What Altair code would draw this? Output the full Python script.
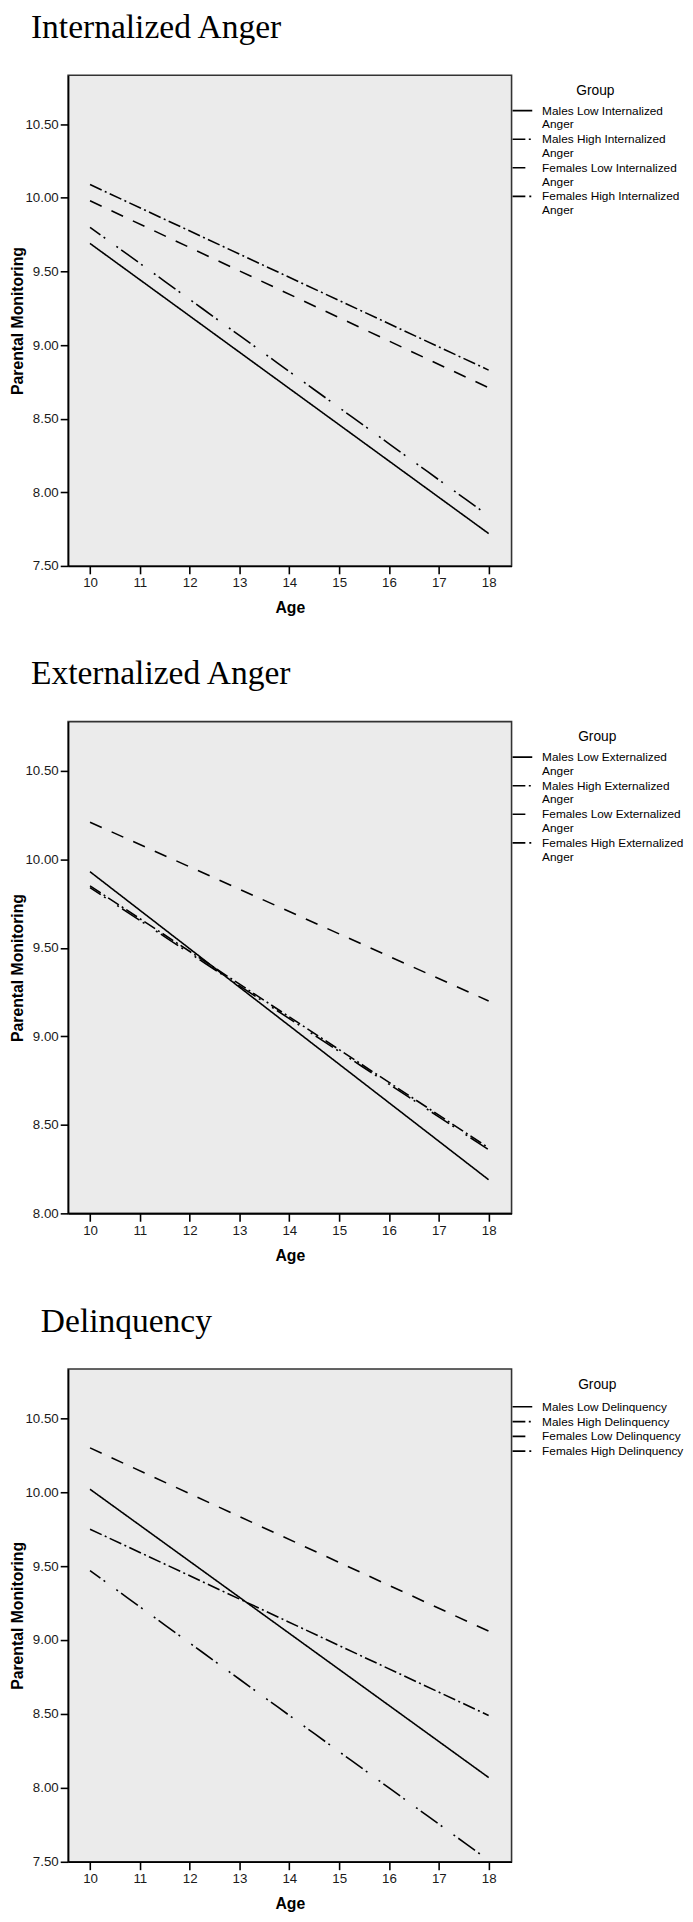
import altair as alt
import pandas as pd

# ---- data ----
AGES = [10, 18]
X_TICKS = [10, 11, 12, 13, 14, 15, 16, 17, 18]

INT_GROUPS = ["Males Low Internalized Anger", "Males High Internalized Anger",
              "Females Low Internalized Anger", "Females High Internalized Anger"]
INT_AT_10 = [9.69, 10.09, 9.98, 9.80]
INT_AT_18 = [7.72, 8.83, 8.71, 7.84]
INT_Y_TICKS = [7.5, 8.0, 8.5, 9.0, 9.5, 10.0, 10.5]

EXT_GROUPS = ["Males Low Externalized Anger", "Males High Externalized Anger",
              "Females Low Externalized Anger", "Females High Externalized Anger"]
EXT_AT_10 = [9.93, 9.85, 10.21, 9.84]
EXT_AT_18 = [8.19, 8.37, 9.20, 8.36]
EXT_Y_TICKS = [8.0, 8.5, 9.0, 9.5, 10.0, 10.5]

DEL_GROUPS = ["Males Low Delinquency", "Males High Delinquency",
              "Females Low Delinquency", "Females High Delinquency"]
DEL_AT_10 = [10.02, 9.75, 10.30, 9.47]
DEL_AT_18 = [8.07, 8.49, 9.06, 7.51]
DEL_Y_TICKS = [7.5, 8.0, 8.5, 9.0, 9.5, 10.0, 10.5]

# line styles: solid, dense dash-dot, dashed, sparse dash-dot-dot
DASHES = [[1, 0], [13, 3.5, 2, 3.5], [13, 11], [13, 4, 2, 14, 2, 4, 8, 0]]

SANS = "Liberation Sans"
SERIF = "Liberation Serif"


def panel(title, title_dx, groups, v10, v18, y_domain, y_ticks, height, wrap):
    rows = []
    for g, a, b in zip(groups, v10, v18):
        rows.append({"Group": g, "Age": AGES[0], "PM": a})
        rows.append({"Group": g, "Age": AGES[1], "PM": b})
    df = pd.DataFrame(rows)
    label_expr = ("[replace(datum.label, ' Anger', ''), 'Anger']" if wrap
                  else "datum.label")
    return alt.Chart(df).mark_line(color="black", strokeWidth=1.6).encode(
        x=alt.X("Age:Q",
                scale=alt.Scale(domain=[9.56, 18.46], nice=False, zero=False),
                axis=alt.Axis(values=X_TICKS, format="d", title="Age",
                              tickSize=8, labelPadding=2, titlePadding=11)),
        y=alt.Y("PM:Q",
                scale=alt.Scale(domain=y_domain, nice=False, zero=False),
                axis=alt.Axis(values=y_ticks, format=".2f",
                              title="Parental Monitoring",
                              tickSize=8, labelPadding=2, titlePadding=0)),
        strokeDash=alt.StrokeDash(
            "Group:N",
            scale=alt.Scale(domain=groups, range=DASHES),
            legend=alt.Legend(
                title="Group", orient="none", legendX=450, legendY=9,
                symbolType="stroke", symbolSize=400, symbolStrokeWidth=1.6,
                symbolStrokeColor="black", labelOffset=9,
                labelFont=SANS, labelFontSize=12, labelColor="black",
                labelLimit=400, labelBaseline="middle", labelExpr=label_expr,
                titleFont=SANS, titleFontSize=14, titleFontWeight="normal",
                titleColor="black", titleAnchor="middle",
                titlePadding=7 if wrap else 8,
                clipHeight=12 if wrap else 14.6,
                rowPadding=3 if wrap else 0, padding=0,
            ),
        ),
    ).properties(
        width=450, height=height,
        title=alt.TitleParams(title, anchor="start", frame="group",
                              dx=title_dx, offset=4, baseline="alphabetic",
                              font=SERIF, fontSize=34, fontWeight="normal",
                              color="black"),
    )


p1 = panel("Internalized Anger", -37.7, INT_GROUPS, INT_AT_10, INT_AT_18,
           [7.5, 10.833], INT_Y_TICKS, 498, True)
p2 = panel("Externalized Anger", -37.7, EXT_GROUPS, EXT_AT_10, EXT_AT_18,
           [8.0, 10.778], EXT_Y_TICKS, 499, True)
p3 = panel("Delinquency", -27.7, DEL_GROUPS, DEL_AT_10, DEL_AT_18,
           [7.5, 10.833], DEL_Y_TICKS, 500, False)

chart = alt.vconcat(p1, p2, p3, spacing=40).resolve_scale(
    strokeDash="independent", y="independent"
).properties(
    padding={"top": -12, "left": 0, "right": 0, "bottom": 0}
).configure_view(
    fill="#EBEBEB", stroke="#333333", strokeWidth=1.6
).configure_axis(
    labelFont=SANS, labelFontSize=13.5, labelColor="#1a1a1a",
    titleFont=SANS, titleFontSize=16, titleFontWeight="bold",
    titleColor="black", domainColor="black", domainWidth=1.6,
    tickColor="black", tickWidth=1.6, grid=False
)

chart.save("out.html", embed_options={"renderer": "svg", "actions": False})
